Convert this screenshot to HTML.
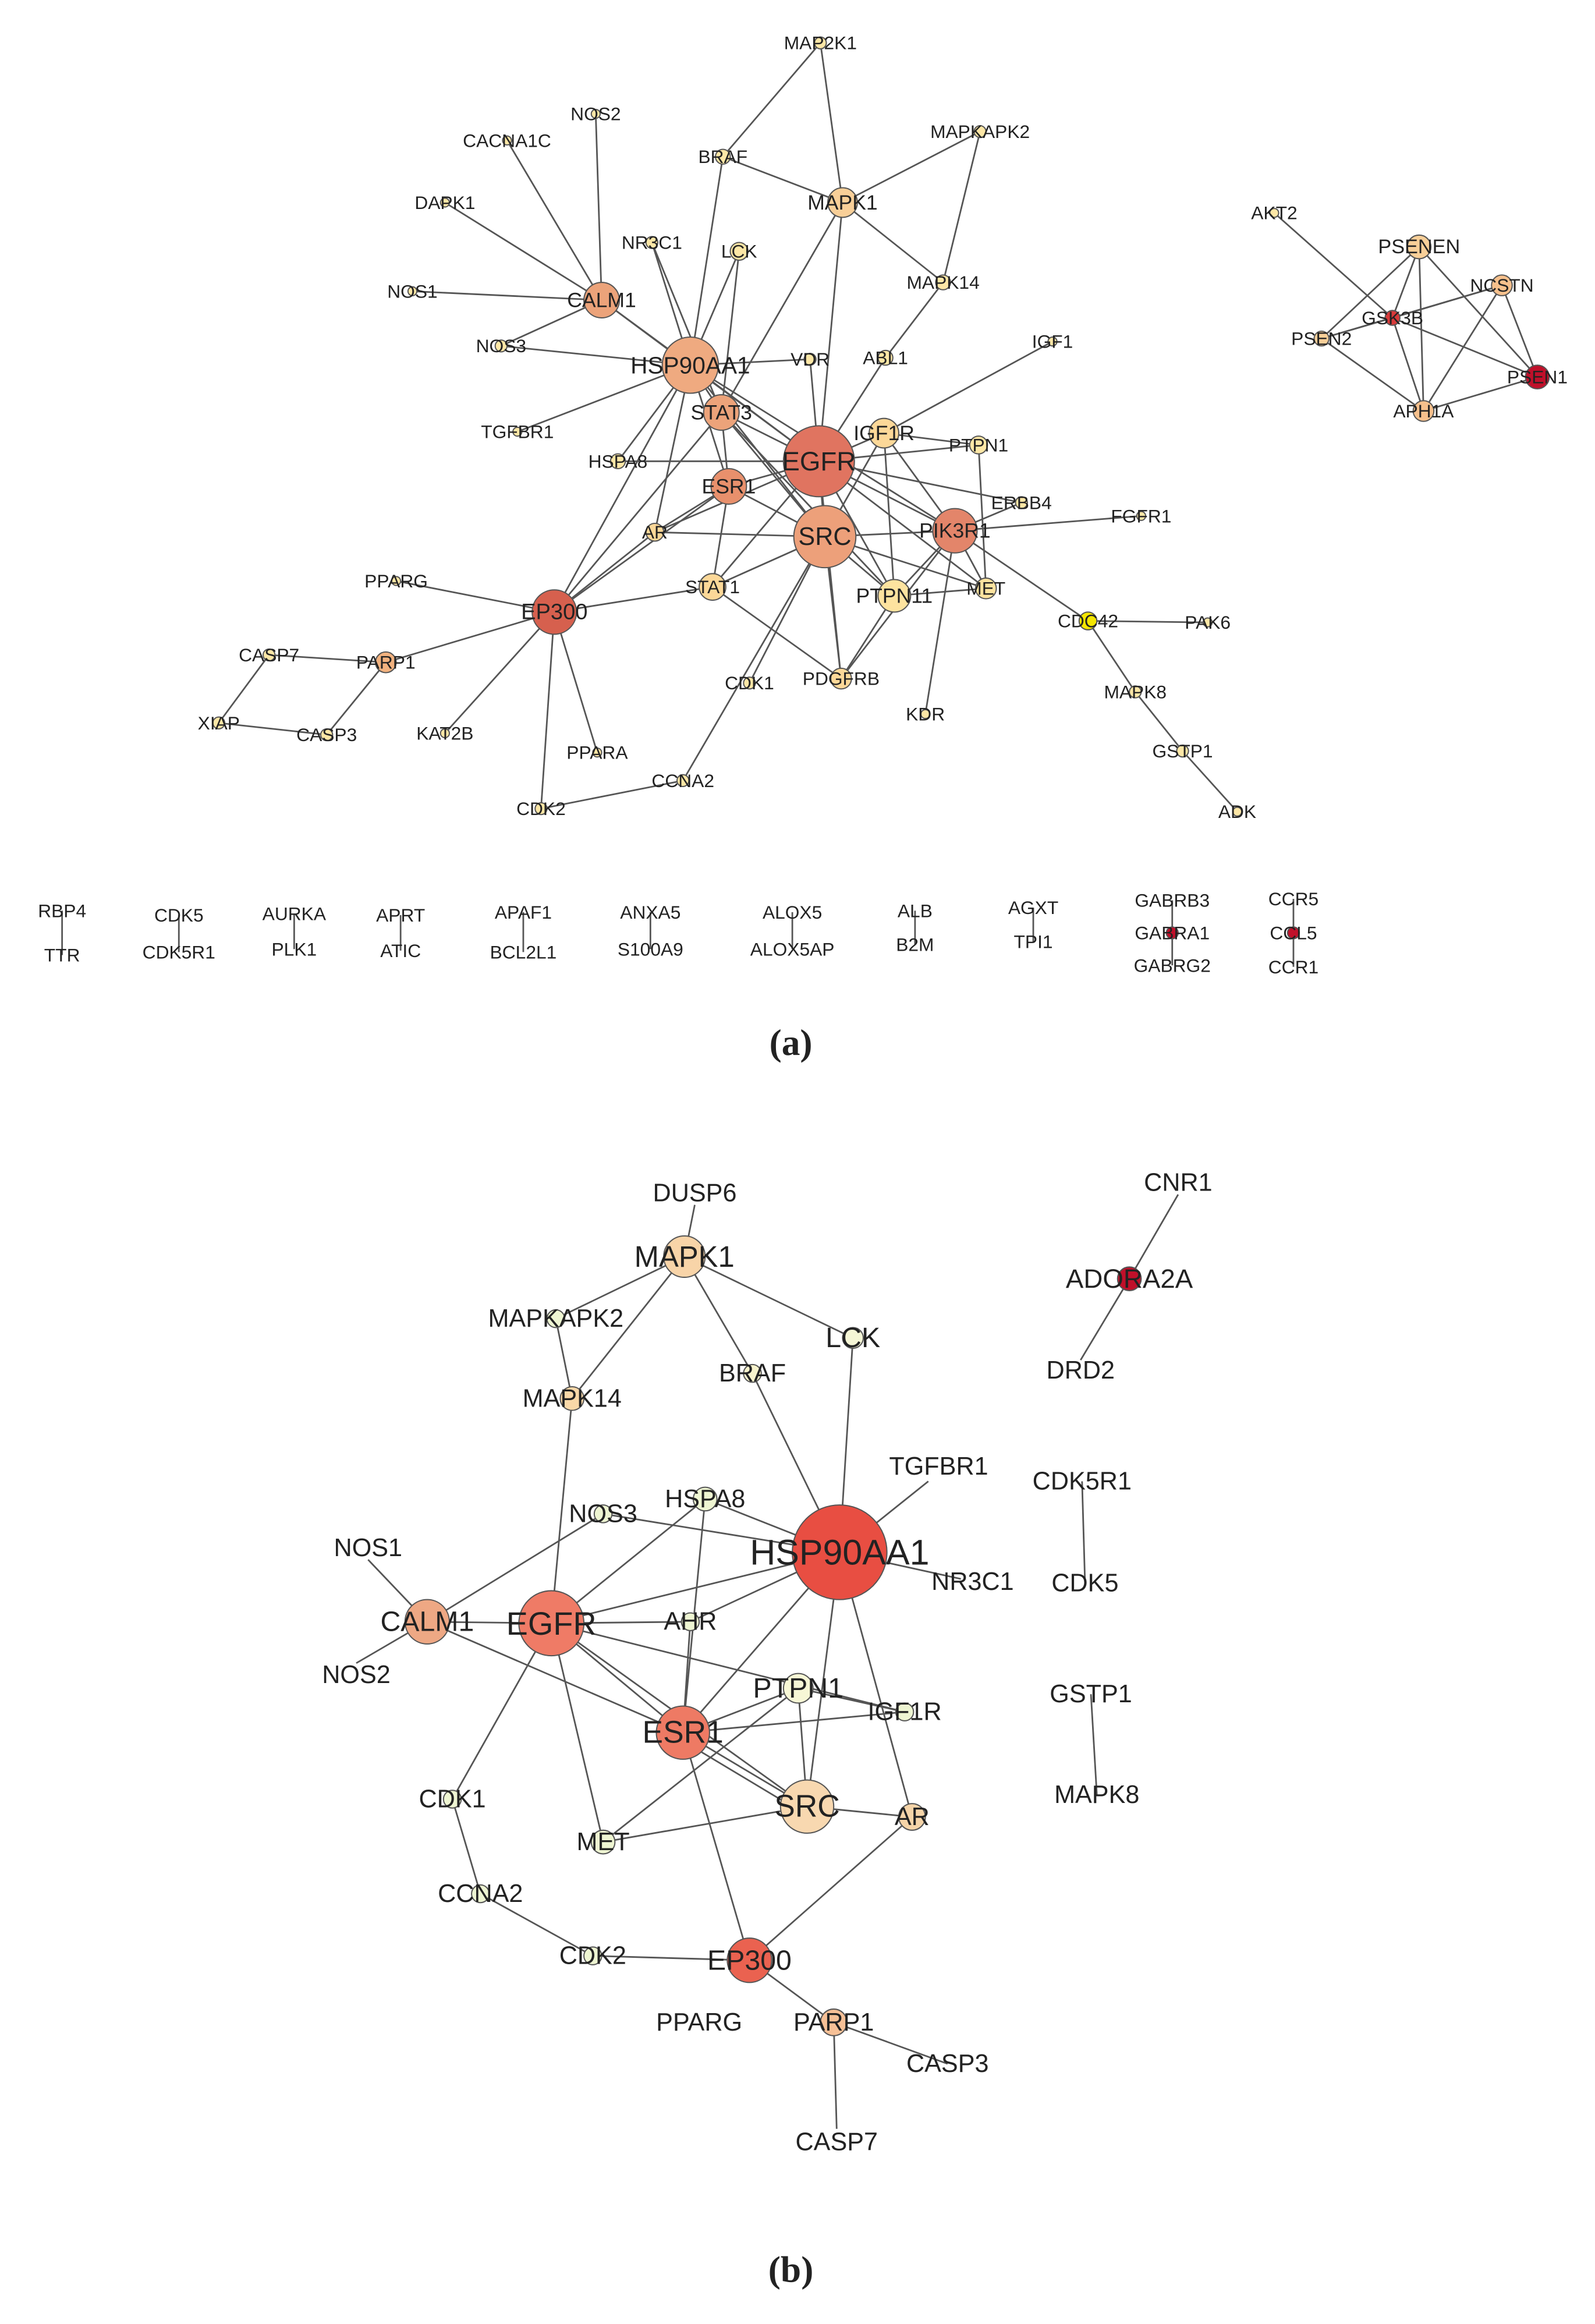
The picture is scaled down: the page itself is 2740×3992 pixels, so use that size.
<!DOCTYPE html>
<html><head><meta charset="utf-8"><style>
html,body{margin:0;padding:0;background:#fff}
svg{display:block}
text{font-family:"Liberation Sans",sans-serif;fill:#222;text-anchor:middle;dominant-baseline:central}
.e line{stroke:#555;stroke-width:1.1}
circle{stroke:#555;stroke-width:0.8}
.a text{font-size:12.5px}
.b text{font-size:17px}
.cap{font-family:"Liberation Serif",serif;font-size:25px;font-weight:bold}
</style></head><body>
<svg width="2740" height="3992" viewBox="0 0 1079 1572" xmlns="http://www.w3.org/2000/svg">
<rect width="1079" height="1572" fill="#fff"/>
<!-- ===== (a) edges ===== -->
<g class="e">
<line x1="555" y1="29" x2="489" y2="106"/><line x1="555" y1="29" x2="570" y2="137"/>
<line x1="489" y1="106" x2="570" y2="137"/><line x1="663" y1="89" x2="570" y2="137"/>
<line x1="663" y1="89" x2="638" y2="191"/><line x1="570" y1="137" x2="638" y2="191"/>
<line x1="570" y1="137" x2="554" y2="312"/><line x1="570" y1="137" x2="488" y2="279"/>
<line x1="638" y1="191" x2="599" y2="242"/>
<line x1="403" y1="77" x2="407" y2="203"/><line x1="343" y1="95" x2="407" y2="203"/>
<line x1="301" y1="137" x2="407" y2="203"/><line x1="279" y1="197" x2="407" y2="203"/>
<line x1="339" y1="234" x2="407" y2="203"/><line x1="407" y1="203" x2="467" y2="247"/>
<line x1="407" y1="203" x2="554" y2="312"/><line x1="339" y1="234" x2="467" y2="247"/>
<line x1="441" y1="164" x2="467" y2="247"/><line x1="500" y1="170" x2="467" y2="247"/>
<line x1="489" y1="106" x2="467" y2="247"/><line x1="350" y1="292" x2="467" y2="247"/>
<line x1="418" y1="312" x2="467" y2="247"/><line x1="467" y1="247" x2="548" y2="243"/>
<line x1="467" y1="247" x2="488" y2="279"/><line x1="467" y1="247" x2="554" y2="312"/>
<line x1="467" y1="247" x2="558" y2="363"/><line x1="467" y1="247" x2="493" y2="329"/>
<line x1="467" y1="247" x2="443" y2="360"/><line x1="467" y1="247" x2="375" y2="414"/>
<line x1="467" y1="247" x2="646" y2="359"/><line x1="441" y1="164" x2="488" y2="279"/>
<line x1="500" y1="170" x2="488" y2="279"/>
<line x1="548" y1="243" x2="554" y2="312"/><line x1="599" y1="242" x2="554" y2="312"/>
<line x1="712" y1="231" x2="598" y2="293"/><line x1="598" y1="293" x2="554" y2="312"/>
<line x1="598" y1="293" x2="558" y2="363"/><line x1="598" y1="293" x2="646" y2="359"/>
<line x1="598" y1="293" x2="605" y2="403"/><line x1="598" y1="293" x2="662" y2="301"/>
<line x1="662" y1="301" x2="554" y2="312"/><line x1="662" y1="301" x2="667" y2="398"/>
<line x1="554" y1="312" x2="558" y2="363"/><line x1="554" y1="312" x2="493" y2="329"/>
<line x1="554" y1="312" x2="488" y2="279"/><line x1="554" y1="312" x2="646" y2="359"/>
<line x1="554" y1="312" x2="691" y2="340"/><line x1="554" y1="312" x2="482" y2="397"/>
<line x1="554" y1="312" x2="605" y2="403"/><line x1="554" y1="312" x2="667" y2="398"/>
<line x1="554" y1="312" x2="569" y2="459"/><line x1="554" y1="312" x2="418" y2="312"/>
<line x1="554" y1="312" x2="443" y2="360"/>
<line x1="488" y1="279" x2="558" y2="363"/><line x1="488" y1="279" x2="493" y2="329"/>
<line x1="488" y1="279" x2="375" y2="414"/><line x1="488" y1="279" x2="605" y2="403"/>
<line x1="493" y1="329" x2="558" y2="363"/><line x1="493" y1="329" x2="375" y2="414"/>
<line x1="493" y1="329" x2="443" y2="360"/><line x1="493" y1="329" x2="482" y2="397"/>
<line x1="558" y1="363" x2="646" y2="359"/><line x1="558" y1="363" x2="482" y2="397"/>
<line x1="558" y1="363" x2="605" y2="403"/><line x1="558" y1="363" x2="462" y2="528"/>
<line x1="558" y1="363" x2="569" y2="459"/><line x1="558" y1="363" x2="667" y2="398"/>
<line x1="558" y1="363" x2="443" y2="360"/><line x1="558" y1="363" x2="507" y2="462"/>
<line x1="646" y1="359" x2="772" y2="349"/><line x1="646" y1="359" x2="736" y2="420"/>
<line x1="646" y1="359" x2="605" y2="403"/><line x1="646" y1="359" x2="626" y2="483"/>
<line x1="646" y1="359" x2="569" y2="459"/><line x1="646" y1="359" x2="667" y2="398"/>
<line x1="646" y1="359" x2="691" y2="340"/>
<line x1="605" y1="403" x2="667" y2="398"/><line x1="605" y1="403" x2="569" y2="459"/>
<line x1="736" y1="420" x2="817" y2="421"/><line x1="736" y1="420" x2="768" y2="468"/>
<line x1="768" y1="468" x2="800" y2="508"/><line x1="800" y1="508" x2="837" y2="549"/>
<line x1="268" y1="393" x2="375" y2="414"/><line x1="375" y1="414" x2="482" y2="397"/>
<line x1="375" y1="414" x2="261" y2="448"/><line x1="375" y1="414" x2="301" y2="496"/>
<line x1="375" y1="414" x2="404" y2="509"/><line x1="375" y1="414" x2="366" y2="547"/>
<line x1="375" y1="414" x2="443" y2="360"/><line x1="482" y1="397" x2="569" y2="459"/>
<line x1="366" y1="547" x2="462" y2="528"/>
<line x1="182" y1="443" x2="261" y2="448"/><line x1="182" y1="443" x2="148" y2="489"/>
<line x1="148" y1="489" x2="221" y2="497"/><line x1="221" y1="497" x2="261" y2="448"/>
<line x1="862" y1="144" x2="942" y2="215"/><line x1="942" y1="215" x2="960" y2="167"/>
<line x1="942" y1="215" x2="1016" y2="193"/><line x1="942" y1="215" x2="1040" y2="255"/>
<line x1="942" y1="215" x2="894" y2="229"/><line x1="942" y1="215" x2="963" y2="278"/>
<line x1="960" y1="167" x2="894" y2="229"/><line x1="960" y1="167" x2="963" y2="278"/>
<line x1="960" y1="167" x2="1040" y2="255"/><line x1="1016" y1="193" x2="894" y2="229"/>
<line x1="1016" y1="193" x2="1040" y2="255"/><line x1="1016" y1="193" x2="963" y2="278"/>
<line x1="1040" y1="255" x2="963" y2="278"/><line x1="894" y1="229" x2="963" y2="278"/>
<line x1="42" y1="616" x2="42" y2="646"/><line x1="121" y1="619" x2="121" y2="644"/>
<line x1="199" y1="618" x2="199" y2="642"/><line x1="271" y1="619" x2="271" y2="643"/>
<line x1="354" y1="617" x2="354" y2="644"/><line x1="440" y1="617" x2="440" y2="642"/>
<line x1="536" y1="617" x2="536" y2="642"/><line x1="619" y1="616" x2="619" y2="639"/>
<line x1="699" y1="614" x2="699" y2="637"/><line x1="793" y1="609" x2="793" y2="653"/>
<line x1="875" y1="608" x2="875" y2="654"/>
</g>
<!-- ===== (a) nodes ===== -->
<g class="a">
<circle cx="555" cy="29" r="4" fill="#fde7a6"/><circle cx="663" cy="89" r="4" fill="#fde7a6"/>
<circle cx="489" cy="106" r="5" fill="#fde7a6"/><circle cx="570" cy="137" r="10" fill="#f8cf98"/>
<circle cx="403" cy="77" r="3" fill="#fde7a6"/><circle cx="343" cy="95" r="3" fill="#fde7a6"/>
<circle cx="301" cy="137" r="3" fill="#fde7a6"/><circle cx="441" cy="164" r="4" fill="#fde7a6"/>
<circle cx="500" cy="170" r="6" fill="#fde7a6"/><circle cx="638" cy="191" r="5" fill="#fde7a6"/>
<circle cx="862" cy="144" r="3" fill="#fde7a6"/><circle cx="960" cy="167" r="8" fill="#f8cf98"/>
<circle cx="1016" cy="193" r="7" fill="#f6c08c"/><circle cx="942" cy="215" r="5" fill="#d83a3a"/>
<circle cx="894" cy="229" r="5" fill="#f8cf98"/><circle cx="1040" cy="255" r="8" fill="#c0102a"/>
<circle cx="963" cy="278" r="7" fill="#f6c08c"/><circle cx="279" cy="197" r="3" fill="#fde7a6"/>
<circle cx="407" cy="203" r="12" fill="#eca37a"/><circle cx="339" cy="234" r="4" fill="#fde7a6"/>
<circle cx="467" cy="247" r="19" fill="#efaa80"/><circle cx="548" cy="243" r="4" fill="#fde7a6"/>
<circle cx="599" cy="242" r="5" fill="#fde7a6"/><circle cx="712" cy="231" r="3" fill="#fde7a6"/>
<circle cx="350" cy="292" r="3" fill="#fde7a6"/><circle cx="488" cy="279" r="12" fill="#eca37a"/>
<circle cx="598" cy="293" r="10" fill="#fcd898"/><circle cx="662" cy="301" r="6" fill="#fde7a6"/>
<circle cx="554" cy="312" r="24" fill="#e07460"/><circle cx="418" cy="312" r="5" fill="#fde7a6"/>
<circle cx="493" cy="329" r="12" fill="#e8906c"/><circle cx="691" cy="340" r="4" fill="#fde7a6"/>
<circle cx="772" cy="349" r="3" fill="#fde7a6"/><circle cx="443" cy="360" r="6" fill="#fcd898"/>
<circle cx="558" cy="363" r="21" fill="#eda07a"/><circle cx="646" cy="359" r="15" fill="#e3856a"/>
<circle cx="268" cy="393" r="3" fill="#fde7a6"/><circle cx="375" cy="414" r="15" fill="#d6604e"/>
<circle cx="482" cy="397" r="9" fill="#fcd898"/><circle cx="605" cy="403" r="11" fill="#fde39f"/>
<circle cx="667" cy="398" r="7" fill="#fde39f"/><circle cx="736" cy="420" r="6" fill="#f5e600"/>
<circle cx="817" cy="421" r="3" fill="#fde7a6"/><circle cx="182" cy="443" r="4" fill="#fde7a6"/>
<circle cx="261" cy="448" r="7" fill="#f2b27f"/><circle cx="507" cy="462" r="4" fill="#fde7a6"/>
<circle cx="569" cy="459" r="7" fill="#fcd898"/><circle cx="626" cy="483" r="3" fill="#fde7a6"/>
<circle cx="768" cy="468" r="4" fill="#fde7a6"/><circle cx="148" cy="489" r="4" fill="#fde7a6"/>
<circle cx="221" cy="497" r="4" fill="#fde7a6"/><circle cx="301" cy="496" r="3" fill="#fde7a6"/>
<circle cx="404" cy="509" r="3" fill="#fde7a6"/><circle cx="800" cy="508" r="4" fill="#fde7a6"/>
<circle cx="462" cy="528" r="4" fill="#fde7a6"/><circle cx="366" cy="547" r="4" fill="#fde7a6"/>
<circle cx="837" cy="549" r="3" fill="#fde7a6"/>
<circle cx="793" cy="631" r="4" fill="#c0102a"/><circle cx="875" cy="631" r="4" fill="#c0102a"/>

<text x="555" y="29">MAP2K1</text><text x="663" y="89">MAPKAPK2</text><text x="489" y="106">BRAF</text>
<text x="570" y="137" style="font-size:14px">MAPK1</text><text x="403" y="77">NOS2</text><text x="343" y="95">CACNA1C</text>
<text x="301" y="137">DAPK1</text><text x="441" y="164">NR3C1</text><text x="500" y="170">LCK</text>
<text x="638" y="191">MAPK14</text><text x="862" y="144">AKT2</text><text x="960" y="167" style="font-size:13.5px">PSENEN</text>
<text x="1016" y="193">NCSTN</text><text x="942" y="215">GSK3B</text><text x="894" y="229">PSEN2</text>
<text x="1040" y="255">PSEN1</text><text x="963" y="278">APH1A</text><text x="279" y="197">NOS1</text>
<text x="407" y="203" style="font-size:14px">CALM1</text><text x="339" y="234">NOS3</text>
<text x="467" y="247" style="font-size:16px">HSP90AA1</text><text x="548" y="243">VDR</text>
<text x="599" y="242">ABL1</text><text x="712" y="231">IGF1</text><text x="350" y="292">TGFBR1</text>
<text x="488" y="279" style="font-size:14px">STAT3</text><text x="598" y="293" style="font-size:14px">IGF1R</text>
<text x="662" y="301">PTPN1</text><text x="554" y="312" style="font-size:18px">EGFR</text>
<text x="418" y="312">HSPA8</text><text x="493" y="329" style="font-size:14px">ESR1</text>
<text x="691" y="340">ERBB4</text><text x="772" y="349">FGFR1</text><text x="443" y="360">AR</text>
<text x="558" y="363" style="font-size:17px">SRC</text><text x="646" y="359" style="font-size:14px">PIK3R1</text>
<text x="268" y="393">PPARG</text><text x="375" y="414" style="font-size:15px">EP300</text>
<text x="482" y="397">STAT1</text><text x="605" y="403" style="font-size:14px">PTPN11</text>
<text x="667" y="398">MET</text><text x="736" y="420">CDC42</text><text x="817" y="421">PAK6</text>
<text x="182" y="443">CASP7</text><text x="261" y="448">PARP1</text><text x="507" y="462">CDK1</text>
<text x="569" y="459">PDGFRB</text><text x="626" y="483">KDR</text><text x="768" y="468">MAPK8</text>
<text x="148" y="489">XIAP</text><text x="221" y="497">CASP3</text><text x="301" y="496">KAT2B</text>
<text x="404" y="509">PPARA</text><text x="800" y="508">GSTP1</text><text x="462" y="528">CCNA2</text>
<text x="366" y="547">CDK2</text><text x="837" y="549">ADK</text>
<text x="42" y="616">RBP4</text><text x="42" y="646">TTR</text>
<text x="121" y="619">CDK5</text><text x="121" y="644">CDK5R1</text>
<text x="199" y="618">AURKA</text><text x="199" y="642">PLK1</text>
<text x="271" y="619">APRT</text><text x="271" y="643">ATIC</text>
<text x="354" y="617">APAF1</text><text x="354" y="644">BCL2L1</text>
<text x="440" y="617">ANXA5</text><text x="440" y="642">S100A9</text>
<text x="536" y="617">ALOX5</text><text x="536" y="642">ALOX5AP</text>
<text x="619" y="616">ALB</text><text x="619" y="639">B2M</text>
<text x="699" y="614">AGXT</text><text x="699" y="637">TPI1</text>
<text x="793" y="609">GABRB3</text><text x="793" y="631">GABRA1</text><text x="793" y="653">GABRG2</text>
<text x="875" y="608">CCR5</text><text x="875" y="631">CCL5</text><text x="875" y="654">CCR1</text>
</g>
<text class="cap" x="535" y="705">(a)</text>

<!-- ===== (b) edges ===== -->
<g class="e">
<line x1="470" y1="815" x2="463" y2="850"/><line x1="463" y1="850" x2="376" y2="892"/>
<line x1="463" y1="850" x2="387" y2="946"/><line x1="463" y1="850" x2="509" y2="929"/>
<line x1="463" y1="850" x2="577" y2="905"/><line x1="376" y1="892" x2="387" y2="946"/>
<line x1="387" y1="946" x2="373" y2="1098"/><line x1="509" y1="929" x2="568" y2="1050"/>
<line x1="577" y1="905" x2="568" y2="1050"/><line x1="628" y1="1002" x2="568" y2="1050"/>
<line x1="568" y1="1050" x2="650" y2="1068"/><line x1="568" y1="1050" x2="408" y2="1024"/>
<line x1="568" y1="1050" x2="477" y2="1014"/><line x1="568" y1="1050" x2="373" y2="1098"/>
<line x1="568" y1="1050" x2="462" y2="1172"/><line x1="568" y1="1050" x2="546" y2="1222"/>
<line x1="568" y1="1050" x2="617" y2="1229"/><line x1="568" y1="1050" x2="467" y2="1097"/>
<line x1="249" y1="1055" x2="289" y2="1097"/><line x1="241" y1="1125" x2="289" y2="1097"/>
<line x1="289" y1="1097" x2="373" y2="1098"/><line x1="289" y1="1097" x2="408" y2="1024"/>
<line x1="289" y1="1097" x2="462" y2="1172"/><line x1="373" y1="1098" x2="306" y2="1217"/>
<line x1="373" y1="1098" x2="477" y2="1014"/><line x1="373" y1="1098" x2="467" y2="1097"/>
<line x1="373" y1="1098" x2="462" y2="1172"/><line x1="373" y1="1098" x2="546" y2="1222"/>
<line x1="373" y1="1098" x2="408" y2="1246"/><line x1="373" y1="1098" x2="612" y2="1158"/>
<line x1="477" y1="1014" x2="462" y2="1172"/><line x1="467" y1="1097" x2="462" y2="1172"/>
<line x1="540" y1="1142" x2="546" y2="1222"/><line x1="540" y1="1142" x2="612" y2="1158"/>
<line x1="540" y1="1142" x2="408" y2="1246"/><line x1="540" y1="1142" x2="462" y2="1172"/>
<line x1="462" y1="1172" x2="546" y2="1222"/><line x1="462" y1="1172" x2="612" y2="1158"/>
<line x1="462" y1="1172" x2="507" y2="1326"/><line x1="466" y1="1180" x2="546" y2="1228"/>
<line x1="546" y1="1222" x2="408" y2="1246"/><line x1="546" y1="1222" x2="617" y2="1229"/>
<line x1="617" y1="1229" x2="507" y2="1326"/><line x1="306" y1="1217" x2="325" y2="1281"/>
<line x1="325" y1="1281" x2="401" y2="1323"/><line x1="401" y1="1323" x2="507" y2="1326"/>
<line x1="507" y1="1326" x2="564" y2="1368"/><line x1="564" y1="1368" x2="641" y2="1396"/>
<line x1="564" y1="1368" x2="566" y2="1440"/><line x1="732" y1="1002" x2="734" y2="1071"/>
<line x1="738" y1="1146" x2="742" y2="1214"/><line x1="797" y1="808" x2="764" y2="865"/>
<line x1="764" y1="865" x2="731" y2="920"/>
</g>
<g class="b">
<circle cx="463" cy="850" r="14" fill="#f8d4a8"/><circle cx="376" cy="892" r="6" fill="#eef5d2"/>
<circle cx="577" cy="905" r="7" fill="#f5f6d6"/><circle cx="509" cy="929" r="6" fill="#f7f3cc"/>
<circle cx="387" cy="946" r="8" fill="#f9d8a8"/><circle cx="764" cy="865" r="8" fill="#c0102a"/>
<circle cx="477" cy="1014" r="8" fill="#eef5d2"/><circle cx="408" cy="1024" r="6" fill="#eef5d2"/>
<circle cx="568" cy="1050" r="32" fill="#e84e42"/><circle cx="289" cy="1097" r="15" fill="#eea884"/>
<circle cx="373" cy="1098" r="22" fill="#ef7b66"/><circle cx="467" cy="1097" r="6" fill="#eef5d2"/>
<circle cx="540" cy="1142" r="10" fill="#f7f7d6"/><circle cx="612" cy="1158" r="6" fill="#eef5d2"/>
<circle cx="462" cy="1172" r="18" fill="#ee7a64"/><circle cx="546" cy="1222" r="18" fill="#f8d8b0"/>
<circle cx="617" cy="1229" r="9" fill="#f5d4a8"/><circle cx="306" cy="1217" r="6" fill="#eef5d2"/>
<circle cx="408" cy="1246" r="8" fill="#eef5d2"/><circle cx="325" cy="1281" r="6" fill="#eef5d2"/>
<circle cx="401" cy="1323" r="6" fill="#eef5d2"/><circle cx="507" cy="1326" r="15" fill="#ea6250"/>
<circle cx="564" cy="1368" r="9" fill="#f6c096"/>

<text x="470" y="807">DUSP6</text><text x="463" y="850" style="font-size:20px">MAPK1</text>
<text x="376" y="892">MAPKAPK2</text><text x="577" y="905" style="font-size:19px">LCK</text>
<text x="509" y="929">BRAF</text><text x="387" y="946">MAPK14</text>
<text x="797" y="800">CNR1</text><text x="764" y="865" style="font-size:18px">ADORA2A</text><text x="731" y="927">DRD2</text>
<text x="635" y="992">TGFBR1</text><text x="732" y="1002">CDK5R1</text><text x="734" y="1071">CDK5</text>
<text x="477" y="1014">HSPA8</text><text x="408" y="1024">NOS3</text>
<text x="568" y="1050" style="font-size:24px">HSP90AA1</text><text x="658" y="1070">NR3C1</text>
<text x="249" y="1047">NOS1</text><text x="289" y="1097" style="font-size:19px">CALM1</text>
<text x="373" y="1098" style="font-size:22px">EGFR</text><text x="467" y="1097">AHR</text>
<text x="241" y="1133">NOS2</text><text x="540" y="1142" style="font-size:19px">PTPN1</text>
<text x="612" y="1158">IGF1R</text><text x="738" y="1146">GSTP1</text><text x="742" y="1214">MAPK8</text>
<text x="462" y="1172" style="font-size:21px">ESR1</text><text x="546" y="1222" style="font-size:21px">SRC</text>
<text x="617" y="1229">AR</text><text x="306" y="1217">CDK1</text><text x="408" y="1246">MET</text>
<text x="325" y="1281">CCNA2</text><text x="401" y="1323">CDK2</text>
<text x="507" y="1326" style="font-size:19px">EP300</text><text x="473" y="1368">PPARG</text>
<text x="564" y="1368">PARP1</text><text x="641" y="1396">CASP3</text><text x="566" y="1449">CASP7</text>
</g>
<text class="cap" x="535" y="1535">(b)</text>
</svg>
</body></html>
